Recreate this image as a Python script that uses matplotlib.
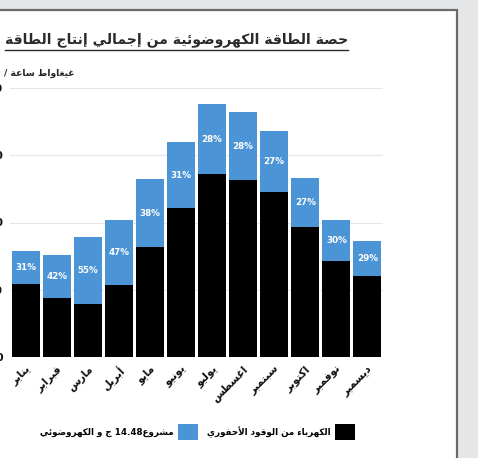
import re
import matplotlib
matplotlib.use('Agg')
import matplotlib.pyplot as plt
import matplotlib.patches as mpatches
from matplotlib.lines import Line2D

# ---------------- data ----------------
months = ['يناير', 'فبراير', 'مارس', 'أبريل', 'مايو', 'يونيو', 'يوليو',
          'اغسطس', 'سبتمبر', 'اكتوبر', 'نوفمبر', 'ديسمبر']
fossil = [109, 87, 79, 107, 163, 221, 272, 263, 245, 194, 143, 121]
solar = [48, 64, 99, 97, 101, 99, 104, 101, 91, 72, 61, 51]
shares = ['31%', '42%', '55%', '47%', '38%', '31%', '28%', '28%', '27%', '27%', '30%', '29%']
yticks = [0, 100, 200, 300, 400]
ytick_labels = ['0', '100', '200', '300', '400']
title_text = 'حصة الطاقة الكهروضوئية من إجمالي إنتاج الطاقة'
unit_text = 'غيغاواط ساعة /'
legend_fossil = 'الكهرباء من الوقود الأحفوري'
legend_solar = 'مشروع14.48 ج و الكهروضوئي'

# ---------------- minimal Arabic shaping (presentation forms + RTL) ----------------
FOUR = {'ئ': 0xFE89, 'ب': 0xFE8F, 'ت': 0xFE95, 'ث': 0xFE99, 'ج': 0xFE9D, 'ح': 0xFEA1,
        'خ': 0xFEA5, 'س': 0xFEB1, 'ش': 0xFEB5, 'ص': 0xFEB9, 'ض': 0xFEBD, 'ط': 0xFEC1,
        'ظ': 0xFEC5, 'ع': 0xFEC9, 'غ': 0xFECD, 'ف': 0xFED1, 'ق': 0xFED5, 'ك': 0xFED9,
        'ل': 0xFEDD, 'م': 0xFEE1, 'ن': 0xFEE5, 'ه': 0xFEE9, 'ي': 0xFEF1}
TWO = {'آ': 0xFE81, 'أ': 0xFE83, 'ؤ': 0xFE85, 'إ': 0xFE87, 'ا': 0xFE8D, 'ة': 0xFE93,
       'د': 0xFEA9, 'ذ': 0xFEAB, 'ر': 0xFEAD, 'ز': 0xFEAF, 'و': 0xFEED, 'ى': 0xFEEF}
ONE = {'ء': 0xFE80}
LAMALEF = {'آ': 0xFEF5, 'أ': 0xFEF7, 'إ': 0xFEF9, 'ا': 0xFEFB}


def ar(s):
    out = []
    i, n = 0, len(s)
    while i < n:
        c = s[i]
        prev = s[i - 1] if i > 0 else ''
        jp = prev in FOUR
        if c == 'ل' and i + 1 < n and s[i + 1] in LAMALEF:
            out.append(chr(LAMALEF[s[i + 1]] + (1 if jp else 0)))
            i += 2
            continue
        nxt = s[i + 1] if i + 1 < n else ''
        jn = c in FOUR and (nxt in FOUR or nxt in TWO)
        if c in FOUR:
            b = FOUR[c]
            if jp and jn:
                out.append(chr(b + 3))
            elif jp:
                out.append(chr(b + 1))
            elif jn:
                out.append(chr(b + 2))
            else:
                out.append(chr(b))
        elif c in TWO:
            out.append(chr(TWO[c] + (1 if jp else 0)))
        elif c in ONE:
            out.append(chr(ONE[c]))
        else:
            out.append(c)
        i += 1
    vis = ''.join(out)[::-1]
    vis = re.sub(r'[0-9][0-9.,]*', lambda m: m.group(0)[::-1], vis)
    return vis


# ---------------- figure ----------------
W, H = 478, 458
fig = plt.figure(figsize=(W / 100, H / 100), dpi=100)
fig.patch.set_facecolor('#e5e6e8')

# white card with border
card = mpatches.Rectangle((-10 / W, -10 / H), (457 + 10) / W, (H - 10 + 10) / H,
                          transform=fig.transFigure, facecolor='white',
                          edgecolor='#6a6a6a', linewidth=1.6, zorder=0)
fig.add_artist(card)

FONT = ['DejaVu Sans']
BLACK = '#000000'
BLUE = '#4b94d6'

ax_left, ax_right = 10 / W, 383 / W
ax_bottom, ax_top = (H - 357) / H, (H - 88) / H
ax = fig.add_axes([ax_left, ax_bottom, ax_right - ax_left, ax_top - ax_bottom])
ax.set_facecolor('none')

x = list(range(len(months)))
b1 = ax.bar(x, fossil, width=0.9, color=BLACK, zorder=3)
b2 = ax.bar(x, solar, width=0.9, bottom=fossil, color=BLUE, zorder=3)

for xi, f, s, lab in zip(x, fossil, solar, shares):
    ax.text(xi, f + s / 2, lab, ha='center', va='center', color='white',
            fontsize=6.3, fontweight='bold', family=FONT, zorder=4)

ax.set_xlim(-0.5, len(months) - 0.5)
ax.set_ylim(0, 400)
ax.set_yticks(yticks)
ax.set_yticklabels(ytick_labels, fontsize=8, fontweight='bold', color='#111111')
ax.tick_params(axis='y', length=0, pad=5)
ax.set_xticks(x)
ax.set_xticklabels([ar(m) for m in months], rotation=45, ha='right',
                   rotation_mode='anchor', fontsize=7.6, fontweight='bold',
                   family=FONT, color='#111111')
ax.tick_params(axis='x', length=0, pad=5)
ax.grid(axis='y', color='#e6e6e6', linewidth=0.8, zorder=0)
for sp in ax.spines.values():
    sp.set_visible(False)

# title (fit to the reference width)
fig.canvas.draw()
r = fig.canvas.get_renderer()
title = fig.text(348 / W, (H - 40) / H, ar(title_text), ha='right', va='center',
                 fontsize=11.5, fontweight='bold', color='#2a2a2a', family=FONT)
w0 = title.get_window_extent(r).width
title.set_fontsize(11.5 * 346 / w0)
bb = title.get_window_extent(r)
fig.add_artist(Line2D([bb.x0 / W, bb.x1 / W], [(H - 50) / H, (H - 50) / H],
                      transform=fig.transFigure, color='#2a2a2a', linewidth=1.0))

# unit label
fig.text(75 / W, (H - 73) / H, ar(unit_text), ha='right', va='center',
         fontsize=6.6, fontweight='bold', color='#222222', family=FONT)

# legend
leg = fig.legend([b2, b1], [ar(legend_solar), ar(legend_fossil)],
                 loc='center', bbox_to_anchor=(197.5 / W, (H - 432) / H), ncol=2,
                 frameon=False, markerfirst=False, handlelength=2.3, handleheight=2.3,
                 columnspacing=1.1, handletextpad=0.45, borderpad=0.2,
                 prop={'family': FONT, 'weight': 'bold', 'size': 6.3})

fig.savefig('out.png', dpi=100, facecolor=fig.get_facecolor())
